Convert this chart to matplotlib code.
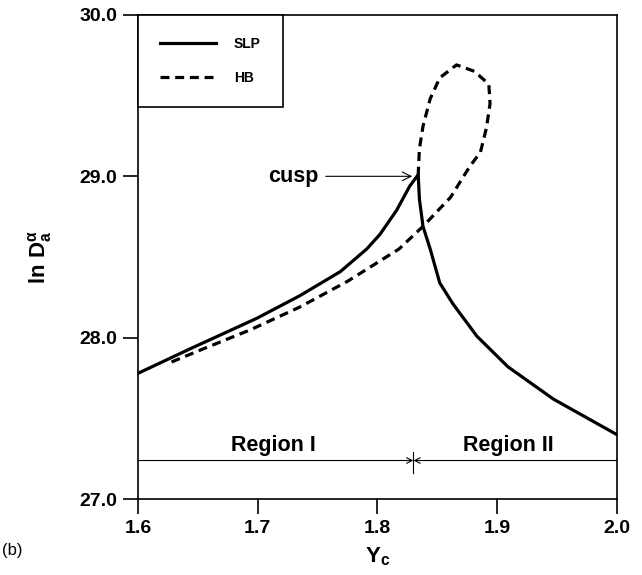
import matplotlib
matplotlib.use("Agg")
import matplotlib.pyplot as plt

plt.rcParams["font.family"] = ["Liberation Sans", "DejaVu Sans"]
plt.rcParams["font.weight"] = "bold"
plt.rcParams["mathtext.fontset"] = "custom"
plt.rcParams["mathtext.rm"] = "Liberation Sans:bold"
plt.rcParams["mathtext.bf"] = "Liberation Sans:bold"
plt.rcParams["mathtext.it"] = "Liberation Sans:bold"

# SLP curve: upper branch up to the cusp, then the lower branch
slp_x = [1.600, 1.643, 1.699, 1.735, 1.769, 1.791, 1.802, 1.816, 1.827, 1.834,
         1.835, 1.838, 1.844, 1.852, 1.863, 1.883, 1.909, 1.947, 2.000]
slp_y = [27.78, 27.93, 28.12, 28.26, 28.41, 28.55, 28.64, 28.79, 28.94, 29.01,
         28.86, 28.69, 28.55, 28.34, 28.21, 28.01, 27.82, 27.62, 27.40]

# HB curve, ending in the loop that closes at the cusp
hb_x = [1.628, 1.654, 1.694, 1.735, 1.775, 1.818, 1.838, 1.861, 1.877, 1.886,
        1.891, 1.894, 1.893, 1.881, 1.866, 1.852, 1.844, 1.838, 1.835, 1.834]
hb_y = [27.85, 27.93, 28.05, 28.19, 28.35, 28.55, 28.69, 28.87, 29.06, 29.15,
        29.30, 29.45, 29.57, 29.65, 29.69, 29.61, 29.48, 29.31, 29.17, 29.01]

cusp_x, cusp_y = 1.834, 29.01
region_border = 1.83
region_y = 27.24
xticks = [1.6, 1.7, 1.8, 1.9, 2.0]
yticks = [27.0, 28.0, 29.0, 30.0]

fig = plt.figure(figsize=(6.42, 5.75), dpi=100)
ax = fig.add_axes([0.215, 0.1317, 0.746, 0.8425])

ax.plot(slp_x, slp_y, color="black", linewidth=2.3, label="SLP")
ax.plot(hb_x, hb_y, color="black", linewidth=2.3, dashes=(2.8, 1.8), label="HB")

ax.set_xlim(1.6, 2.0)
ax.set_ylim(27.0, 30.0)
ax.set_xticks(xticks)
ax.set_yticks(yticks)
ax.set_xticklabels([f"{t:.1f}" for t in xticks])
ax.set_yticklabels([f"{t:.1f}" for t in yticks])
ax.tick_params(direction="out", length=11, width=1.2, labelsize=14, pad=4,
               top=False, right=False)
for s in ax.spines.values():
    s.set_linewidth(1.2)

ax.set_xlabel(r"$\mathbf{Y_c}$", fontsize=16, labelpad=6)
ax.set_ylabel(r"$\mathbf{ln\ D_a^{\alpha}}$", fontsize=16, labelpad=18)

# region markers
ax.annotate("", xy=(region_border, region_y), xytext=(1.6, region_y),
            arrowprops=dict(arrowstyle="->", color="black", lw=0.8,
                            shrinkA=0, shrinkB=0))
ax.annotate("", xy=(region_border, region_y), xytext=(2.0, region_y),
            arrowprops=dict(arrowstyle="->", color="black", lw=0.8,
                            shrinkA=0, shrinkB=0))
ax.plot([region_border, region_border], [region_y - 0.08, region_y + 0.05],
        color="black", linewidth=0.8)
ax.text(1.713, region_y + 0.03, "Region I", ha="center", va="bottom", fontsize=15.5)
ax.text(1.909, region_y + 0.03, "Region II", ha="center", va="bottom", fontsize=15.5)

ax.annotate("cusp", xy=(cusp_x - 0.005, 29.0), xytext=(1.730, 29.0),
            ha="center", va="center", fontsize=15.5,
            arrowprops=dict(arrowstyle="->", color="black", lw=0.8,
                            shrinkA=3, shrinkB=0))

ax.legend(loc="upper left", bbox_to_anchor=(0, 1), borderaxespad=0,
          fancybox=False, edgecolor="black", framealpha=1, fontsize=10,
          handlelength=4, handletextpad=1.3, labelspacing=1.4, borderpad=1.6)
ax.get_legend().get_frame().set_linewidth(1.2)

fig.text(0.003, 0.035, "(b)", fontsize=12, fontweight="normal")

fig.savefig("out.png", dpi=100)
